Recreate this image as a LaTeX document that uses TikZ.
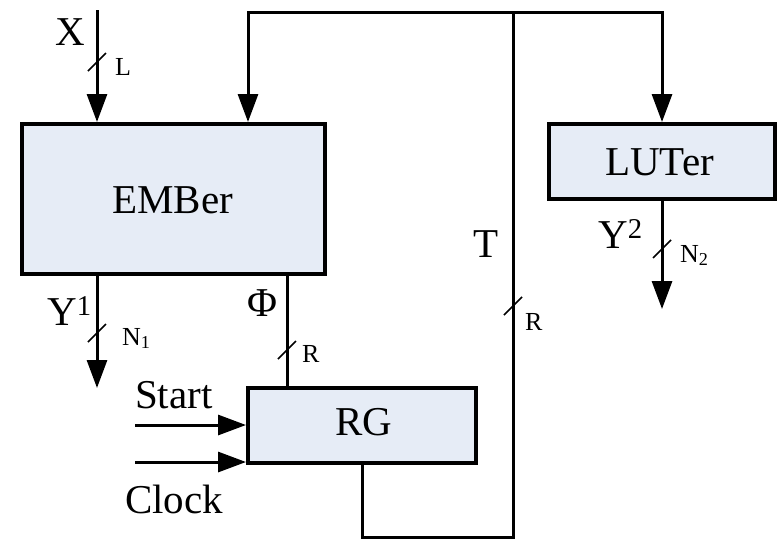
\documentclass[tikz,border=0pt]{standalone}
\usepackage{fontspec}
\setmainfont{Liberation Serif}
\usetikzlibrary{arrows.meta}
\definecolor{boxfill}{RGB}{230,236,246}
\tikzset{
  blk/.style={draw=black, line width=4pt, fill=boxfill, inner sep=0pt, font=\fontsize{41}{44}\selectfont},
  wire/.style={line width=3pt},
  arr/.style={line width=3pt, -{Triangle[length=28pt,width=20pt]}},
  bus/.style={line width=1.5pt},
  big/.style={inner sep=0pt, anchor=base west, font=\fontsize{41}{44}\selectfont},
  small/.style={inner sep=0pt, anchor=base west, font=\fontsize{26}{28}\selectfont}
}
\begin{document}
\begin{tikzpicture}[x=1pt,y=-1pt]
\useasboundingbox (0,0) rectangle (783,539);
% blocks
\node[blk, minimum width=303pt, minimum height=150pt] (ember) at (173.5,199) {};
\node[blk, minimum width=226pt, minimum height=75pt] (luter) at (662,161.5) {};
\node[blk, minimum width=228pt, minimum height=75pt] (rg) at (362,425.5) {};
\node[big] (emtxt) at (112,213) {EMBer};
\node[big] (lutxt) at (605,175) {LUTer};
\node[big] (rgtxt) at (335,435) {RG};
% coordinates
\coordinate (xin) at (97,10);
\coordinate (tt) at (513,12);
\coordinate (tb) at (513,537);
\coordinate (fa) at (248,12);
\coordinate (y1end) at (97,388);
\coordinate (phitop) at (287,274);
\coordinate (y2end) at (662,309);
\coordinate (st) at (135,425);
\coordinate (ck) at (135,462);
% connectors
\draw[arr] (xin) -- (xin |- ember.north);
\draw[wire] (rg.south) -- (rg.south |- tb) -- (tb) -- (tt);
\draw[arr] ([xshift=1.5pt]tt) -- (fa) -- (fa |- ember.north);
\draw[arr] ([xshift=-1.5pt]tt) -| (luter.north);
\draw[arr] (xin |- ember.south) -- (y1end);
\draw[wire] (phitop) -- (phitop |- rg.north);
\draw[arr] (luter.south) -- (y2end);
\draw[arr] (st) -- (st -| rg.west);
\draw[arr] (ck) -- (ck -| rg.west);
% bus slashes
\draw[bus] (88,71) -- (106,53);
\draw[bus] (88,342) -- (106,324);
\draw[bus] (278,359) -- (296,341);
\draw[bus] (504,315) -- (522,297);
\draw[bus] (653,258) -- (671,240);
% labels
\node[big] (lx) at (55,45) {X};
\node[small] (ll) at (115,75) {L};
\node[big] (ly1) at (47,325) {Y\textsuperscript{1}};
\node[small] (ln1) at (122,345) {N\textsubscript{1}};
\node[big] (lphi) at (247,316) {Φ};
\node[small] (lr1) at (302,362) {R};
\node[big] (lstart) at (135,408) {Start};
\node[big] (lclock) at (125,513) {Clock};
\node[big] (lt) at (473,257) {T};
\node[small] (lr2) at (525,330) {R};
\node[big] (ly2) at (598,248) {Y\textsuperscript{2}};
\node[small] (ln2) at (680,262) {N\textsubscript{2}};
\end{tikzpicture}
\end{document}
